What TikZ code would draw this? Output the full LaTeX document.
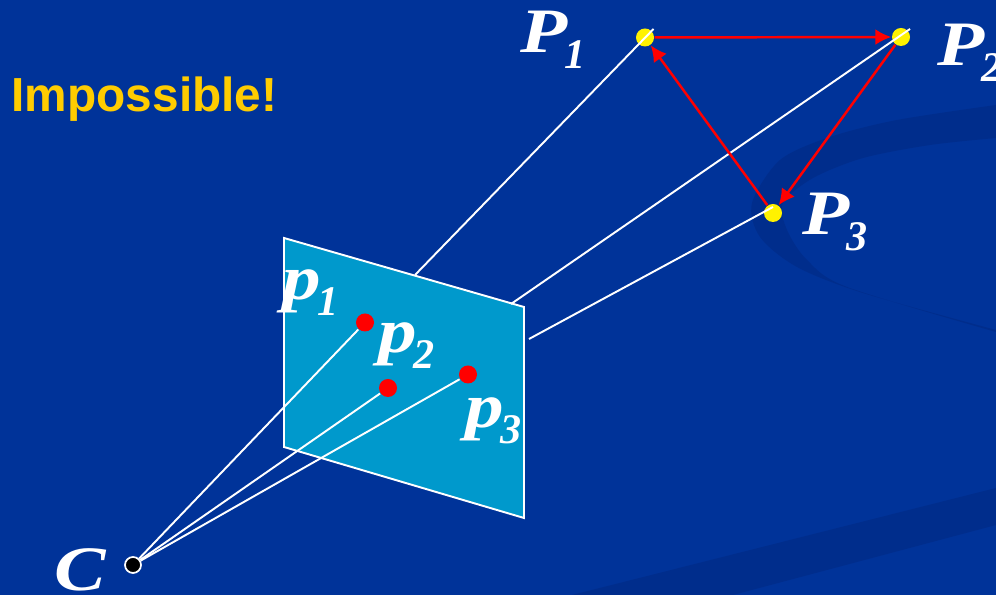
\documentclass[tikz,border=0pt]{standalone}
\usepackage{fontspec}
\setmainfont{Liberation Serif}
\newfontfamily\headfont{Liberation Sans}
\newfontfamily\labfont[FakeStretch=1.22]{Liberation Serif}
\usetikzlibrary{arrows.meta}
\usetikzlibrary{math}
\definecolor{slidebg}{RGB}{0,51,153}
\definecolor{swoosh}{RGB}{0,45,140}
\definecolor{planecol}{RGB}{0,153,204}
\definecolor{headcol}{RGB}{255,204,0}
\tikzset{
  pt3d/.style={circle,fill=yellow,inner sep=0pt,minimum size=0.18cm},
  pt2d/.style={circle,fill=red,inner sep=0pt,minimum size=0.18cm},
  campt/.style={circle,fill=black,draw=white,line width=0.5pt,inner sep=0pt,minimum size=0.16cm},
  ray/.style={draw=white,line width=0.55pt},
  tri/.style={draw=red,line width=0.7pt,-{Latex[length=0.16cm,width=0.16cm]}},
  bigp/.style={text=white,font=\labfont\fontsize{18}{20}\selectfont\bfseries\itshape,inner sep=0pt,anchor=base west},
  smallp/.style={text=white,font=\labfont\fontsize{18}{20}\selectfont\bfseries\itshape,inner sep=0pt,anchor=base west},
}
\newcommand{\lab}[2]{#1\kern-1pt\raisebox{-4.3pt}{\rmfamily\fontsize{12}{12}\selectfont\bfseries\itshape #2}}
\begin{document}
\begin{tikzpicture}[scale=1]
\tikzmath{
\W=9.96;
\H=5.95;
}
\useasboundingbox (0,0) rectangle (\W,\H);
\fill[color=slidebg] (0,0) rectangle (\W,\H);

\fill[color=swoosh] plot[smooth] coordinates {(\W,4.90) (8.97,4.75) (8.30,4.58) (7.80,4.35) (7.52,3.92) (7.60,3.58) (7.97,3.28) (8.63,3.02) (\W,2.65)}
  -- plot[smooth] coordinates {(\W,2.63) (8.47,3.08) (8.07,3.35) (7.87,3.65) (7.83,3.92) (8.13,4.17) (8.63,4.37) (9.30,4.50) (\W,4.57)} -- cycle;
\fill[color=swoosh] (\W,1.07) -- (\W,0.70) -- (7.33,0) -- (5.72,0) -- cycle;

\fill[color=planecol,draw=white,line width=0.55pt] (2.84,3.57) -- (5.24,2.88) -- (5.24,0.77) -- (2.84,1.48) -- cycle;

\node[campt] (C) at (1.33,0.30) {};
\node[pt2d] (p1) at (3.65,2.725) {};
\node[pt2d] (p2) at (3.88,2.07) {};
\node[pt2d] (p3) at (4.68,2.205) {};
\node[pt3d] (P1) at (6.45,5.575) {};
\node[pt3d] (P2) at (9.01,5.58) {};
\node[pt3d] (P3) at (7.73,3.82) {};

\coordinate (a1) at (4.15,3.20);
\coordinate (a2) at (5.11,2.91);
\coordinate (a3) at (5.29,2.56);
\coordinate (b1) at (6.535,5.66);
\coordinate (b2) at (9.10,5.66);
\coordinate (b3) at (7.73,3.88);

\draw[ray] (C) -- (p1);
\draw[ray] (C) -- (p2);
\draw[ray] (C) -- (p3);
\draw[ray] (a1) -- (b1);
\draw[ray] (a2) -- (b2);

\draw[tri] (P1) -- (P2);
\draw[tri] (P2) -- (P3);
\draw[tri] (P3) -- (P1);
\draw[ray] (a3) -- (b3);

\node[text=headcol,font=\headfont\fontsize{13.6}{15}\selectfont\bfseries,anchor=west,inner sep=0pt] (title) at (0.11,4.96) {Impossible!};

\node[bigp] (P1lab) at (5.20,5.42) {\lab{P}{1}};
\node[bigp] (P2lab) at (9.37,5.29) {\lab{P}{2}};
\node[bigp] (P3lab) at (8.02,3.60) {\lab{P}{3}};
\node[smallp] (p1lab) at (2.82,2.95) {\lab{p}{1}};
\node[smallp] (p2lab) at (3.78,2.42) {\lab{p}{2}};
\node[smallp] (p3lab) at (4.65,1.67) {\lab{p}{3}};
\node[bigp] (Clab) at (0.54,0.04) {C};
\end{tikzpicture}
\end{document}
